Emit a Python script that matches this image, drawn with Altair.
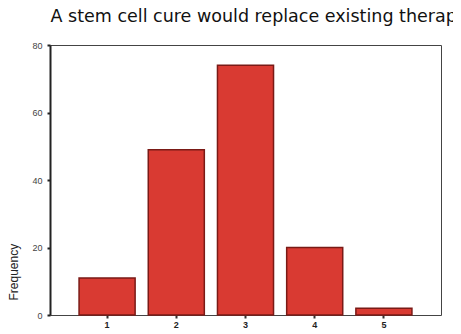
import altair as alt
import pandas as pd

categories = ["1", "2", "3", "4", "5"]
frequencies = [11, 49, 74, 20, 2]
y_ticks = [0, 20, 40, 60, 80]
title_text = "A stem cell cure would replace existing therapies"

df = pd.DataFrame({"cat": categories, "freq": frequencies})

chart = alt.Chart(df).mark_bar(
    color="#d93a32", stroke="#7a1a16", strokeWidth=1.5
).encode(
    x=alt.X("cat:O", sort=categories,
            scale=alt.Scale(paddingInner=0.19, paddingOuter=0.42),
            axis=alt.Axis(title=None, labelAngle=0, labelFont="Liberation Sans",
                          labelFontSize=9, labelColor="#222", labelFontWeight="bold",
                          tickSize=3, tickColor="#333", tickWidth=2,
                          domain=False, labelPadding=2)),
    y=alt.Y("freq:Q", scale=alt.Scale(domain=[0, 80]),
            axis=alt.Axis(values=y_ticks, title="Frequency", titleFont="Liberation Sans",
                          titleFontSize=12, titleFontWeight="normal", titleColor="#222",
                          titleAlign="left", titleBaseline="bottom",
                          titleX=-30, titleY=255, titleAngle=270,
                          labelFont="Liberation Sans", labelFontSize=9, labelColor="#444",
                          tickSize=3, tickColor="#222", tickWidth=2, labelPadding=5,
                          domainColor="#222", domainWidth=2, grid=False)),
).properties(
    width=391, height=270,
    title=alt.TitleParams(title_text, anchor="start", frame="group", font="DejaVu Sans",
                          fontSize=17.5, fontWeight="normal", color="#111", offset=16, dx=0.5),
    autosize=alt.AutoSizeParams(type="none"),
    padding={"left": 42, "top": 37, "right": 12, "bottom": 18},
).configure_view(stroke="#444", strokeWidth=1)

chart.save("out.html", embed_options={"renderer": "svg", "actions": False})
